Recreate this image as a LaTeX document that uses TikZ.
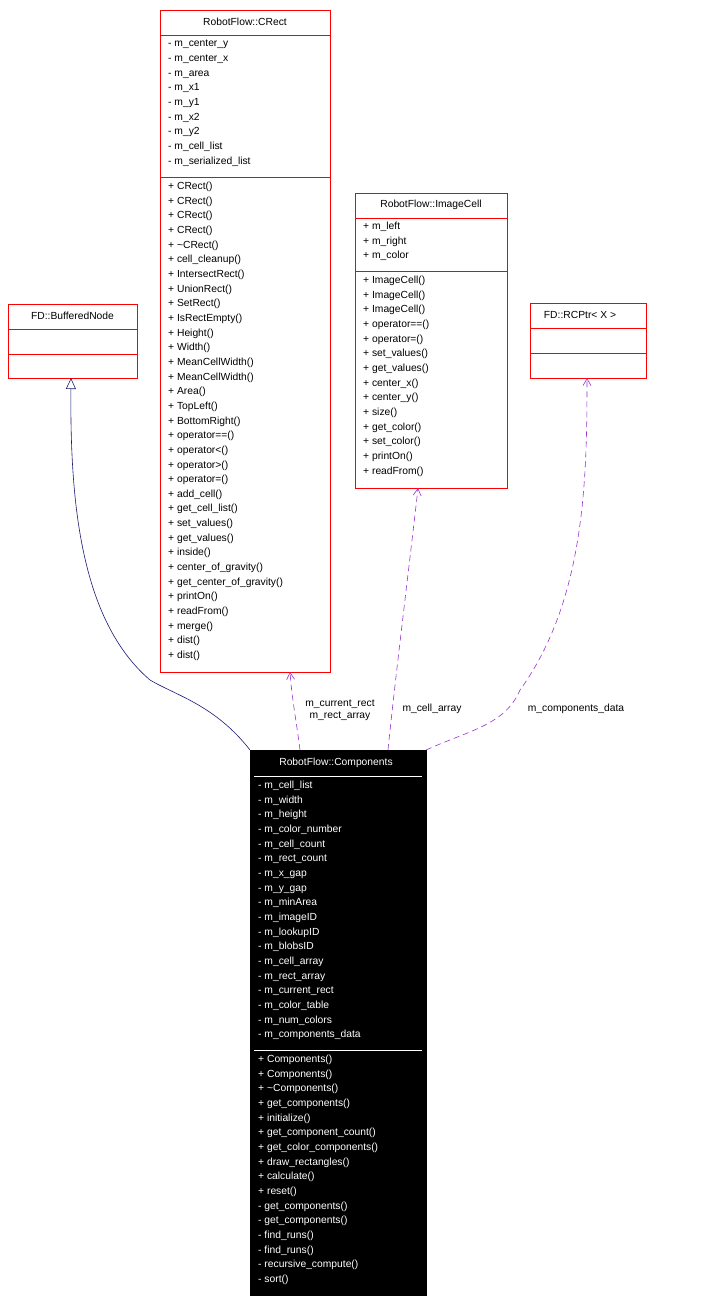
\documentclass[tikz,border=0pt]{standalone}
\usepackage{fontspec}
\setmainfont{Liberation Sans}
\usetikzlibrary{arrows.meta,calc}
\definecolor{edgepurple}{RGB}{153,50,204}
\definecolor{edgenavy}{RGB}{25,25,112}
\tikzset{
  x=1pt,y=-1pt,
  box/.style={draw=red,fill=white,anchor=north west,inner sep=0,line width=0.6pt},
  blackbox/.style={draw=black,fill=black,anchor=north west,inner sep=0},
  txt/.style={anchor=north west,inner sep=0,align=left,font=\fontsize{10.3}{14.65}\selectfont},
  ttl/.style={anchor=center,inner sep=0,font=\fontsize{10.3}{12}\selectfont},
  member/.style={edgepurple,dashed,dash pattern=on 6pt off 4pt,-{Straight Barb[length=7pt,width=8pt]},line width=0.6pt},
  inherit/.style={edgenavy,line width=0.6pt,-{Triangle[open,length=11pt,width=10pt]}},
  lbl/.style={inner sep=0,align=center,font=\fontsize{10.3}{12}\selectfont}
}
\begin{document}
\begin{tikzpicture}
\useasboundingbox (0,0) rectangle (720,1303);
% CRect
\node[box,minimum width=170,minimum height=662] (crect) at (160,10) {};
\draw[red] (160,35) -- (330,35) (160,177) -- (330,177);
\node[ttl] (crectt) at (245,22) {RobotFlow::CRect};
\node[txt] (crecta) at (168,40) {- m\_center\_y\\- m\_center\_x\\- m\_area\\- m\_x1\\- m\_y1\\- m\_x2\\- m\_y2\\- m\_cell\_list\\- m\_serialized\_list};
\node[txt] (crectm) at (168,182) {+ CRect()\\+ CRect()\\+ CRect()\\+ CRect()\\+ \textasciitilde CRect()\\+ cell\_cleanup()\\+ IntersectRect()\\+ UnionRect()\\+ SetRect()\\+ IsRectEmpty()\\+ Height()\\+ Width()\\+ MeanCellWidth()\\+ MeanCellWidth()\\+ Area()\\+ TopLeft()\\+ BottomRight()\\+ operator==()\\+ operator<()\\+ operator>()\\+ operator=()\\+ add\_cell()\\+ get\_cell\_list()\\+ set\_values()\\+ get\_values()\\+ inside()\\+ center\_of\_gravity()\\+ get\_center\_of\_gravity()\\+ printOn()\\+ readFrom()\\+ merge()\\+ dist()\\+ dist()};
% BufferedNode
\node[box,minimum width=129,minimum height=74] (bnode) at (8,304) {};
\draw[red] (8,329) -- (137,329) (8,354) -- (137,354);
\node[ttl] (bnodet) at (72.5,316) {FD::BufferedNode};
% ImageCell
\node[box,minimum width=152,minimum height=295] (icell) at (355,193) {};
\draw[red] (355,218) -- (507,218) (355,271) -- (507,271);
\node[ttl] (icellt) at (431,205) {RobotFlow::ImageCell};
\node[txt] (icella) at (363,222) {+ m\_left\\+ m\_right\\+ m\_color};
\node[txt] (icellm) at (363,276) {+ ImageCell()\\+ ImageCell()\\+ ImageCell()\\+ operator==()\\+ operator=()\\+ set\_values()\\+ get\_values()\\+ center\_x()\\+ center\_y()\\+ size()\\+ get\_color()\\+ set\_color()\\+ printOn()\\+ readFrom()};
% RCPtr
\node[box,minimum width=116,minimum height=75] (rcptr) at (530,303) {};
\draw[red] (530,328) -- (646,328) (530,353) -- (646,353);
\node[ttl] (rcptrt) at (580,315) {FD::RCPtr< X >};
% Components
\node[blackbox,minimum width=176,minimum height=545] (comp) at (250,750) {};
\draw[white] (254,776) -- (422,776) (254,1050) -- (422,1050);
\node[ttl,white] (compt) at (336,763) {RobotFlow::Components};
\node[txt,white] (compa) at (258,781) {- m\_cell\_list\\- m\_width\\- m\_height\\- m\_color\_number\\- m\_cell\_count\\- m\_rect\_count\\- m\_x\_gap\\- m\_y\_gap\\- m\_minArea\\- m\_imageID\\- m\_lookupID\\- m\_blobsID\\- m\_cell\_array\\- m\_rect\_array\\- m\_current\_rect\\- m\_color\_table\\- m\_num\_colors\\- m\_components\_data};
\node[txt,white] (compm) at (258,1055) {+ Components()\\+ Components()\\+ \textasciitilde Components()\\+ get\_components()\\+ initialize()\\+ get\_component\_count()\\+ get\_color\_components()\\+ draw\_rectangles()\\+ calculate()\\+ reset()\\- get\_components()\\- get\_components()\\- find\_runs()\\- find\_runs()\\- recursive\_compute()\\- sort()};
% edges
\coordinate (c1) at (250,750);
\coordinate (c2) at (300,750);
\coordinate (c3) at (388,750);
\coordinate (c4) at (426,750);
\coordinate (t1) at (71,378);
\coordinate (t2) at (290,672);
\coordinate (t3) at (418,488);
\coordinate (t4) at (587,378);
\draw[inherit] (c1) .. controls (215,705) and (175,695) .. (150,680) .. controls (80,620) and (70,500) .. (t1);
\draw[member] (c2) .. controls (297,725) and (292,700) .. (t2);
\draw[member] (c3) .. controls (395,680) and (410,560) .. (t3);
\draw[member] (c4) .. controls (470,730) and (505,725) .. (520,690) .. controls (585,600) and (587,480) .. (t4);
\node[lbl] (l1) at (340,710) {m\_current\_rect\\m\_rect\_array};
\node[lbl] (l2) at (432,709) {m\_cell\_array};
\node[lbl] (l3) at (576,709) {m\_components\_data};
\end{tikzpicture}
\end{document}
